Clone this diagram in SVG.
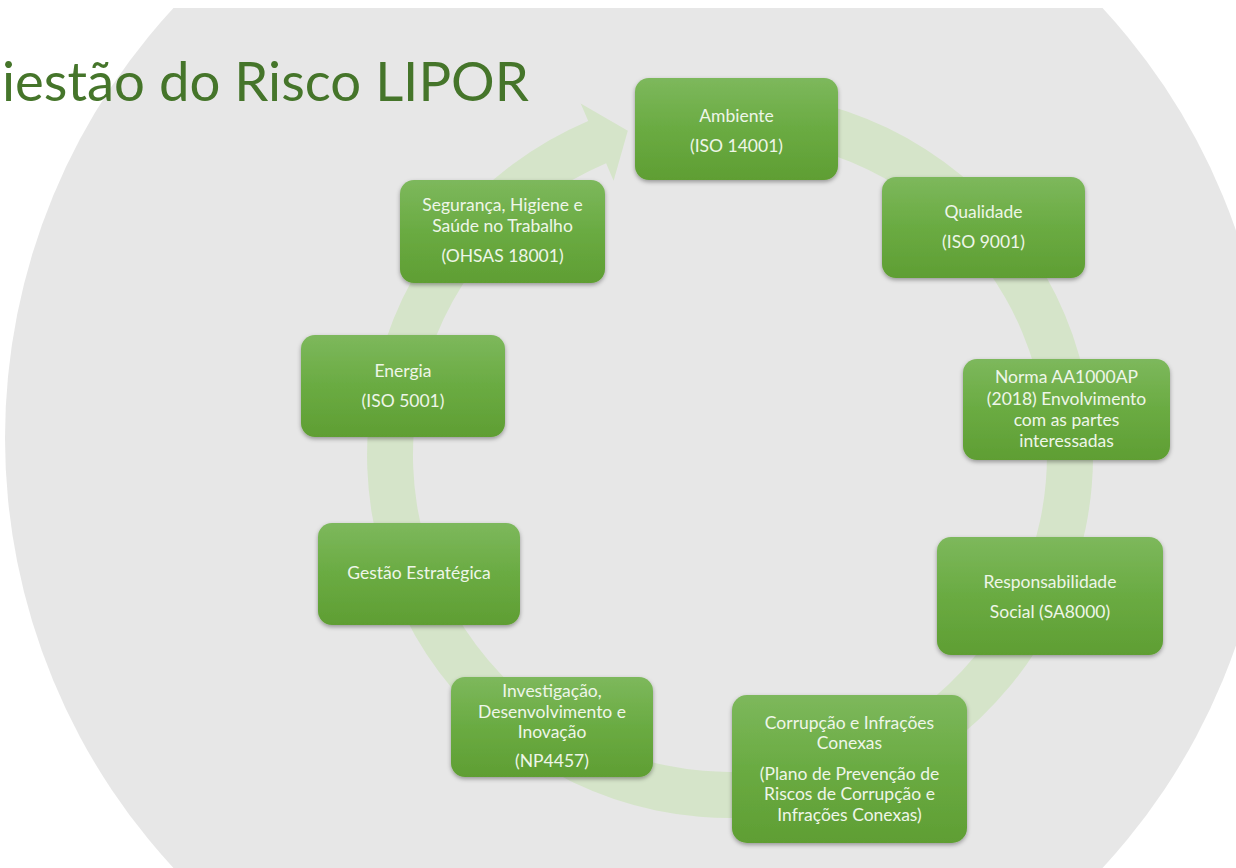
<svg xmlns="http://www.w3.org/2000/svg" width="1236" height="868" viewBox="0 0 1236 868">
  <defs>
    <linearGradient id="boxGrad" x1="0" y1="0" x2="0" y2="1">
      <stop offset="0" stop-color="#7db85c"/>
      <stop offset="0.5" stop-color="#6aab42"/>
      <stop offset="1" stop-color="#5f9e33"/>
    </linearGradient>
    <filter id="shadow" x="-10%" y="-10%" width="120%" height="130%">
      <feDropShadow dx="0" dy="2" stdDeviation="2" flood-color="#000" flood-opacity="0.35"/>
    </filter>
    <clipPath id="pageClip">
      <rect x="0" y="8" width="1236" height="860"/>
    </clipPath>
  </defs>
  <style>
    .box { fill: url(#boxGrad); filter: url(#shadow); }
    .lbl { font-family: Lato, "Liberation Sans", sans-serif; font-size: 17.5px; fill: #eef6e8; text-anchor: middle; }
    .title { font-family: Lato, "Liberation Sans", sans-serif; font-size: 54.5px; fill: #45752a; }
    .ring { fill: #d5e4c9; }
  </style>

  <rect x="0" y="0" width="1236" height="868" fill="#ffffff"/>
  <g id="background" clip-path="url(#pageClip)">
    <circle cx="638" cy="438" r="633" fill="#e7e7e7"/>
  </g>

  <text class="title" x="2" y="101">iestão do Risco LIPOR</text>

  <g id="connectors">
    <path class="ring" d="M 761.6 93.4 A 363 363 0 1 1 588.2 120.9 L 580.7 103.4 L 627.8 130.7 L 613.6 180.7 L 606.1 163.2 A 317 317 0 1 0 757.6 139.2 Z"/>
  </g>

  <g id="node-ambiente">
    <rect class="box" x="635" y="78" width="203" height="102" rx="14"/>
    <text class="lbl" x="736.5" y="122">Ambiente</text>
    <text class="lbl" x="736.5" y="152">(ISO 14001)</text>
  </g>

  <g id="node-qualidade">
    <rect class="box" x="882" y="177" width="203" height="101" rx="14"/>
    <text class="lbl" x="983.5" y="218">Qualidade</text>
    <text class="lbl" x="983.5" y="248">(ISO 9001)</text>
  </g>

  <g id="node-norma">
    <rect class="box" x="963" y="359" width="207" height="101" rx="14"/>
    <text class="lbl" x="1066.5" y="383">Norma AA1000AP</text>
    <text class="lbl" x="1066.5" y="404.5">(2018) Envolvimento</text>
    <text class="lbl" x="1066.5" y="425.5">com as partes</text>
    <text class="lbl" x="1066.5" y="446.5">interessadas</text>
  </g>

  <g id="node-responsabilidade">
    <rect class="box" x="937" y="537" width="226" height="118" rx="14"/>
    <text class="lbl" x="1050" y="588">Responsabilidade</text>
    <text class="lbl" x="1050" y="618">Social (SA8000)</text>
  </g>

  <g id="node-corrupcao">
    <rect class="box" x="732" y="695" width="235" height="148" rx="15"/>
    <text class="lbl" x="849.5" y="729">Corrupção e Infrações</text>
    <text class="lbl" x="849.5" y="749">Conexas</text>
    <text class="lbl" x="849.5" y="780">(Plano de Prevenção de</text>
    <text class="lbl" x="849.5" y="800">Riscos de Corrupção e</text>
    <text class="lbl" x="849.5" y="821">Infrações Conexas)</text>
  </g>

  <g id="node-investigacao">
    <rect class="box" x="451" y="677" width="202" height="100" rx="14"/>
    <text class="lbl" x="552" y="697">Investigação,</text>
    <text class="lbl" x="552" y="718">Desenvolvimento e</text>
    <text class="lbl" x="552" y="738">Inovação</text>
    <text class="lbl" x="552" y="767">(NP4457)</text>
  </g>

  <g id="node-gestao">
    <rect class="box" x="318" y="523" width="202" height="102" rx="14"/>
    <text class="lbl" x="419" y="579">Gestão Estratégica</text>
  </g>

  <g id="node-energia">
    <rect class="box" x="301" y="335" width="204" height="102" rx="14"/>
    <text class="lbl" x="403" y="377">Energia</text>
    <text class="lbl" x="403" y="407">(ISO 5001)</text>
  </g>

  <g id="node-seguranca">
    <rect class="box" x="400" y="180" width="205" height="103" rx="14"/>
    <text class="lbl" x="502.5" y="211">Segurança, Higiene e</text>
    <text class="lbl" x="502.5" y="232">Saúde no Trabalho</text>
    <text class="lbl" x="502.5" y="262">(OHSAS 18001)</text>
  </g>
</svg>
